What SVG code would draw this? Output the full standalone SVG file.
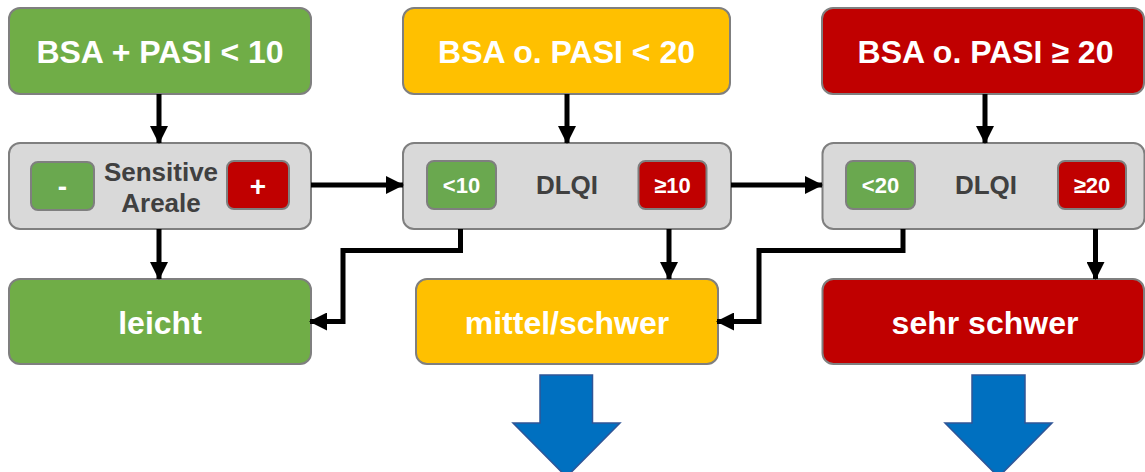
<svg xmlns="http://www.w3.org/2000/svg" width="1145" height="472" viewBox="0 0 1145 472">
  <style>
    .box { stroke: #7f7f7f; stroke-width: 2; }
    .green { fill: #70AD47; }
    .orange { fill: #FFC000; }
    .red { fill: #C00000; }
    .gray { fill: #D9D9D9; }
    .chip-green { fill: #6AA84F; }
    .chip-red { fill: #C00000; }
    .big { font-family: "Liberation Sans", Arial, sans-serif; font-weight: bold; font-size: 32px; fill: #ffffff; text-anchor: middle; }
    .mid { font-family: "Liberation Sans", Arial, sans-serif; font-weight: bold; font-size: 26px; fill: #404040; text-anchor: middle; }
    .chip { font-family: "Liberation Sans", Arial, sans-serif; font-weight: bold; font-size: 22px; fill: #ffffff; text-anchor: middle; }
    .sign { font-family: "Liberation Sans", Arial, sans-serif; font-weight: bold; font-size: 28px; fill: #ffffff; text-anchor: middle; }
    .conn { fill: none; stroke: #000000; stroke-width: 5; }
    .bigarrow { fill: #0070C0; stroke: #2F5597; stroke-width: 1.5; }
  </style>
  <defs>
    <marker id="head" markerUnits="userSpaceOnUse" markerWidth="18" markerHeight="18" refX="17" refY="9" orient="auto">
      <path d="M0,0 L18,9 L0,18 z" fill="#000000"/>
    </marker>
  </defs>

  <!-- top row: severity thresholds -->
  <g id="top-mild">
    <rect class="box green" x="9" y="8" width="302" height="86" rx="11"/>
    <text class="big" x="160" y="62.5">BSA + PASI &lt; 10</text>
  </g>
  <g id="top-moderate">
    <rect class="box orange" x="403" y="8" width="327" height="86" rx="11"/>
    <text class="big" x="566.5" y="62.5">BSA o. PASI &lt; 20</text>
  </g>
  <g id="top-severe">
    <rect class="box red" x="822" y="8" width="322" height="86" rx="11"/>
    <text class="big" x="985.5" y="62.5">BSA o. PASI ≥ 20</text>
  </g>

  <!-- middle row: modifiers -->
  <g id="mid-sensitive">
    <rect class="box gray" x="9" y="143" width="302" height="86" rx="11"/>
    <rect class="box chip-green" x="31" y="162" width="63" height="48" rx="7"/>
    <text class="sign" x="62.5" y="196">-</text>
    <rect class="box chip-red" x="227" y="161" width="62" height="48" rx="7"/>
    <text class="sign" x="258" y="196">+</text>
    <text class="mid" x="161" y="180.5">Sensitive</text>
    <text class="mid" x="161" y="212">Areale</text>
  </g>
  <g id="mid-dlqi-10">
    <rect class="box gray" x="403" y="143" width="328" height="86" rx="11"/>
    <rect class="box chip-green" x="427" y="161" width="69" height="48" rx="7"/>
    <text class="chip" x="461.5" y="193">&lt;10</text>
    <rect class="box chip-red" x="638.5" y="161" width="68" height="48" rx="7"/>
    <text class="chip" x="672.5" y="193">≥10</text>
    <text class="mid" x="567" y="194">DLQI</text>
  </g>
  <g id="mid-dlqi-20">
    <rect class="box gray" x="822.5" y="143" width="322" height="86" rx="11"/>
    <rect class="box chip-green" x="846" y="161" width="69" height="48" rx="7"/>
    <text class="chip" x="880.5" y="193">&lt;20</text>
    <rect class="box chip-red" x="1058" y="161" width="68" height="48" rx="7"/>
    <text class="chip" x="1092" y="193">≥20</text>
    <text class="mid" x="986" y="194">DLQI</text>
  </g>

  <!-- bottom row: classification -->
  <g id="out-leicht">
    <rect class="box green" x="9" y="279" width="302" height="85" rx="11"/>
    <text class="big" x="160" y="333.5">leicht</text>
  </g>
  <g id="out-mittel">
    <rect class="box orange" x="416" y="279" width="302" height="85" rx="11"/>
    <text class="big" x="567" y="333.5">mittel/schwer</text>
  </g>
  <g id="out-sehr">
    <rect class="box red" x="822.5" y="279" width="321.5" height="85" rx="11"/>
    <text class="big" x="985" y="333.5">sehr schwer</text>
  </g>

  <!-- connectors -->
  <g id="connectors">
    <line class="conn" x1="159" y1="94" x2="159" y2="143" marker-end="url(#head)"/>
    <line class="conn" x1="567" y1="94" x2="567" y2="143" marker-end="url(#head)"/>
    <line class="conn" x1="985" y1="94" x2="985" y2="143" marker-end="url(#head)"/>
    <line class="conn" x1="311" y1="185" x2="403" y2="185" marker-end="url(#head)"/>
    <line class="conn" x1="731" y1="185" x2="822" y2="185" marker-end="url(#head)"/>
    <line class="conn" x1="159" y1="229" x2="159" y2="279" marker-end="url(#head)"/>
    <polyline class="conn" points="460.5,229 460.5,250.5 343,250.5 343,321.5 310,321.5" marker-end="url(#head)"/>
    <line class="conn" x1="669" y1="229" x2="669" y2="279" marker-end="url(#head)"/>
    <polyline class="conn" points="903,229 903,250.5 759,250.5 759,321.5 717,321.5" marker-end="url(#head)"/>
    <line class="conn" x1="1095.5" y1="229" x2="1095.5" y2="279" marker-end="url(#head)"/>
  </g>

  <!-- therapy arrows -->
  <g id="therapy-arrows">
    <path class="bigarrow" d="M540,375 L592.5,375 L592.5,423 L620,423 L566.5,477 L513,423 L540,423 Z"/>
    <path class="bigarrow" d="M972,375 L1025,375 L1025,423 L1052,423 L998.5,477 L945,423 L972,423 Z"/>
  </g>
</svg>
